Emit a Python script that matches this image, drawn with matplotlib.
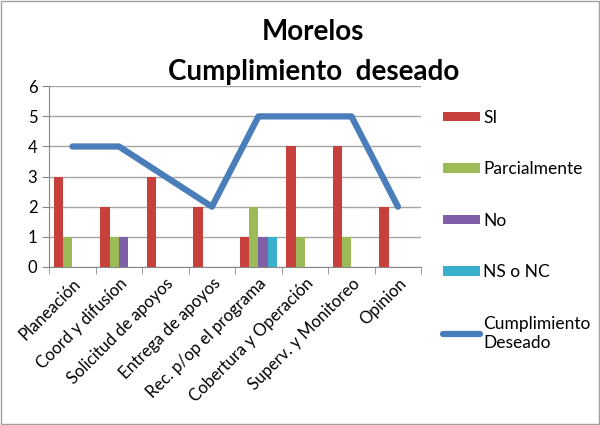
import numpy as np
import matplotlib.pyplot as plt
from matplotlib.patches import Patch, Rectangle
from matplotlib.lines import Line2D

plt.rcParams['font.family'] = ['Lato', 'DejaVu Sans']

# Data
categories = ["Planeación", "Coord y difusíon", "Solicitud de apoyos", "Entrega de apoyos",
              "Rec. p/op el programa", "Cobertura y Operación", "Superv. y Monitoreo", "Opinion"]
si = [3, 2, 3, 2, 1, 4, 4, 2]
parcial = [1, 1, 0, 0, 2, 1, 1, 0]
no = [0, 1, 0, 0, 1, 0, 0, 0]
ns_nc = [0, 0, 0, 0, 1, 0, 0, 0]
cumplimiento = [4, 4, 3, 2, 5, 5, 5, 2]

series = [("SI", si, "#C8403C"),
          ("Parcialmente", parcial, "#9BBB59"),
          ("No", no, "#7F5FA8"),
          ("NS o NC", ns_nc, "#3AAFCC")]

fig = plt.figure(figsize=(6, 4.25), dpi=100)
fig.patches.append(Rectangle((0.002, 0.002), 0.996, 0.996, transform=fig.transFigure,
                             fill=False, edgecolor="#A0A0A0", linewidth=1))

ax = fig.add_axes([0.082, 0.372, 0.62, 0.425])
x = np.arange(len(categories))
w = 0.2
for i, (name, vals, col) in enumerate(series):
    ax.bar(x - 0.3 + i * w, vals, width=w, color=col, zorder=3)
ax.plot(x, cumplimiento, color="#4A7EBB", linewidth=4.5, zorder=4, solid_capstyle="round")

ax.set_xlim(-0.5, len(categories) - 0.5)
ax.set_ylim(0, 6)
ax.set_yticks(range(7))
ax.yaxis.grid(True, color="#A6A6A6", linewidth=1, zorder=0)
ax.set_xticks(x)
ax.set_xticklabels(categories, rotation=45, ha="right", rotation_mode="anchor", fontsize=12)
ax.set_xticks(np.arange(len(categories) + 1) - 0.5, minor=True)
ax.tick_params(axis="x", which="major", length=0, pad=6)
ax.tick_params(axis="x", which="minor", length=5, color="#888888")
ax.tick_params(axis="y", length=5, color="#888888", labelsize=12)
for s in ["top", "right"]:
    ax.spines[s].set_visible(False)
for s in ["left", "bottom"]:
    ax.spines[s].set_color("#888888")

fig.text(0.522, 0.925, "Morelos", ha="center", va="center", fontsize=20, fontweight="bold")
fig.text(0.522, 0.83, "Cumplimiento  deseado", ha="center", va="center", fontsize=20, fontweight="bold")

handles = [Patch(facecolor=c) for _, _, c in series]
handles.append(Line2D([0], [0], color="#4A7EBB", linewidth=4.5, solid_capstyle="round"))
labels = [n for n, _, _ in series] + ["Cumplimiento\nDeseado"]
fig.legend(handles, labels, loc="upper left", bbox_to_anchor=(0.713, 0.779), frameon=False,
           fontsize=12.5, handlelength=2.1, handleheight=0.45, labelspacing=2.05, handletextpad=0.2)

fig.savefig("out.png", dpi=100)
